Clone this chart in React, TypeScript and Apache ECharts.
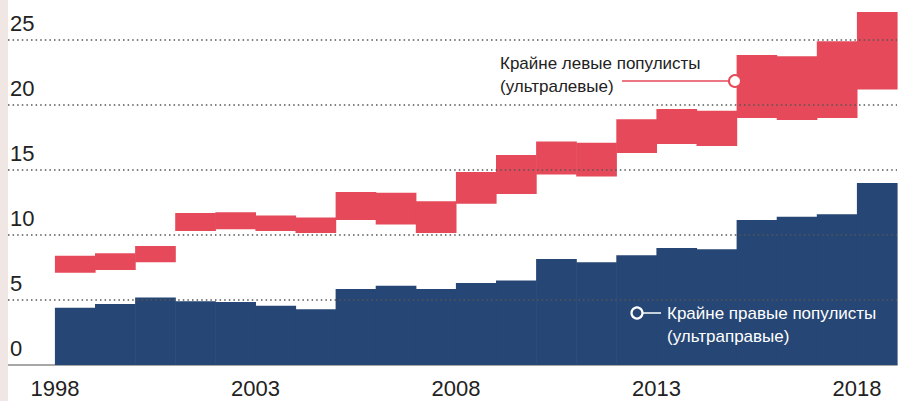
import React, { useEffect, useRef } from "react";
import * as echarts from "echarts";

const years = [1998, 1999, 2000, 2001, 2002, 2003, 2004, 2005, 2006, 2007, 2008, 2009, 2010, 2011, 2012, 2013, 2014, 2015, 2016, 2017, 2018];
const farRight = [4.4, 4.7, 5.2, 4.9, 4.85, 4.55, 4.28, 5.85, 6.1, 5.85, 6.3, 6.5, 8.15, 7.9, 8.45, 9.0, 8.9, 11.15, 11.4, 11.6, 14.0];
const farLeftLow = [7.1, 7.3, 7.9, 10.3, 10.45, 10.3, 10.15, 11.15, 10.8, 10.15, 12.4, 13.15, 14.65, 14.5, 16.3, 17.0, 16.85, 19.0, 18.85, 19.0, 21.2];
const farLeftHigh = [8.4, 8.6, 9.15, 11.7, 11.75, 11.5, 11.35, 13.3, 13.25, 12.6, 14.85, 16.15, 17.2, 17.1, 18.9, 19.7, 19.55, 23.85, 23.75, 24.9, 27.15];
const xTickYears = [1998, 2003, 2008, 2013, 2018];
const yTickValues = [0, 5, 10, 15, 20, 25];
const gridValues = [5, 10, 15, 20, 25];

const BLUE = "#264675";
const RED = "#e64a5a";
const FONT = "'Liberation Sans', Arial, sans-serif";

export default function App() {
  const ref = useRef<HTMLDivElement>(null);
  useEffect(() => {
    if (!ref.current) return;
    const chart = echarts.init(ref.current, null, { renderer: "svg" });
    const rightData = years.map((y, i) => [y, farRight[i]]);
    const leftData = years.map((y, i) => [y, farLeftLow[i], farLeftHigh[i]]);
    chart.setOption({
      animation: false,
      backgroundColor: "#ffffff",
      grid: { left: 8, right: 1, top: 1, bottom: 36, containLabel: false },
      xAxis: {
        type: "value",
        min: 1996.83,
        max: 2019,
        axisLine: { show: true, lineStyle: { color: "#8a8a8a", width: 1.5 } },
        axisTick: { show: false },
        splitLine: { show: false },
        axisLabel: {
          customValues: xTickYears,
          formatter: (v: number) => String(Math.round(v)),
          fontSize: 22,
          color: "#222",
          fontFamily: FONT,
          margin: 12,
        },
      },
      yAxis: {
        type: "value",
        min: 0,
        max: 28,
        axisLine: { show: false },
        axisTick: { show: false },
        splitLine: { show: false },
        axisLabel: {
          customValues: yTickValues,
          inside: true,
          margin: 2,
          align: "left",
          verticalAlign: "bottom",
          padding: [0, 0, 6, 0],
          fontSize: 22,
          color: "#222",
          fontFamily: FONT,
        },
      },
      series: [
        {
          type: "line",
          name: "grid",
          data: [],
          silent: true,
          z: 1,
          markLine: {
            silent: true,
            symbol: "none",
            label: { show: false },
            lineStyle: { type: [1.5, 3.1], color: "#555", width: 1.5 },
            data: gridValues.map((v) => ({ yAxis: v })),
          },
        },
        {
          type: "custom",
          name: "right",
          data: rightData,
          encode: { x: 0, y: 1 },
          z: 3,
          renderItem: (params: any, api: any) => {
            const y = api.value(0);
            const p0 = api.coord([y, api.value(1)]);
            const p1 = api.coord([y + 1, 0]);
            return {
              type: "rect",
              shape: { x: p0[0], y: p0[1], width: p1[0] - p0[0] + 0.6, height: p1[1] - p0[1] },
              style: { fill: BLUE },
            };
          },
        },
        {
          type: "custom",
          name: "left",
          data: leftData,
          encode: { x: 0, y: [1, 2] },
          z: 3,
          renderItem: (params: any, api: any) => {
            const y = api.value(0);
            const p0 = api.coord([y, api.value(2)]);
            const p1 = api.coord([y + 1, api.value(1)]);
            return {
              type: "rect",
              shape: { x: p0[0], y: p0[1], width: p1[0] - p0[0] + 0.6, height: p1[1] - p0[1] },
              style: { fill: RED },
            };
          },
        },
      ],
      graphic: [
        { type: "rect", left: 0, top: 0, z: 10, shape: { width: 8, height: 401 }, style: { fill: "#f0e6e4" } },
        {
          type: "text",
          x: 500,
          y: 52,
          z: 10,
          style: {
            text: "Крайне левые популисты\n(ультралевые)",
            font: `17px ${FONT}`,
            fill: "#222",
            lineHeight: 23,
          },
        },
        { type: "line", z: 10, shape: { x1: 622, y1: 81, x2: 730, y2: 81 }, style: { stroke: RED, lineWidth: 1.5 } },
        { type: "circle", z: 11, shape: { cx: 735, cy: 81, r: 6 }, style: { fill: "#fff", stroke: RED, lineWidth: 2 } },
        {
          type: "text",
          x: 667,
          y: 302,
          z: 10,
          style: {
            text: "Крайне правые популисты\n(ультраправые)",
            font: `17px ${FONT}`,
            fill: "#fff",
            lineHeight: 23,
          },
        },
        { type: "line", z: 10, shape: { x1: 643, y1: 313, x2: 661, y2: 313 }, style: { stroke: "#fff", lineWidth: 1.5 } },
        { type: "circle", z: 11, shape: { cx: 637, cy: 313, r: 5.5 }, style: { fill: BLUE, stroke: "#fff", lineWidth: 2.2 } },
      ],
    });
    return () => chart.dispose();
  }, []);
  return (
    <div
      ref={ref}
      style={{ position: "absolute", left: 0, top: 0, width: 898, height: 401 }}
    />
  );
}
